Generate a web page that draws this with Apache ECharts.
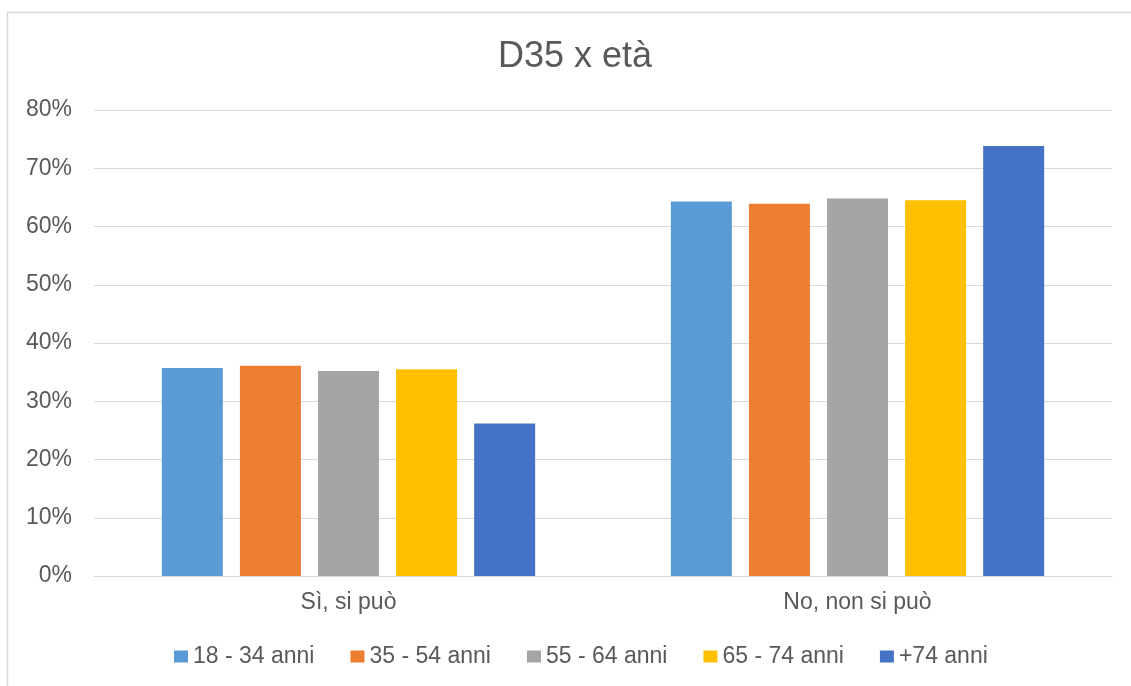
<!DOCTYPE html>
<html>
<head>
<meta charset="utf-8">
<script src="https://cdn.jsdelivr.net/npm/echarts@6/dist/echarts.min.js"></script>
<style>
  html, body { margin: 0; padding: 0; background: #fff; }
  #chart { width: 1131px; height: 686px; }
</style>
</head>
<body>
<div id="chart"></div>
<script>
// Risposte D35 per fascia d'età (quota percentuale)
const categories = ['Sì, si può', 'No, non si può'];
const ageGroups = ['18 - 34 anni', '35 - 54 anni', '55 - 64 anni', '65 - 74 anni', '+74 anni'];
const age18_34 = [35.7, 64.3];
const age35_54 = [36.1, 63.9];
const age55_64 = [35.2, 64.8];
const age65_74 = [35.5, 64.5];
const age74plus = [26.2, 73.8];
const colors = ['#5B9BD5', '#ED7D31', '#A5A5A5', '#FFC000', '#4472C4'];

const seriesValues = [age18_34, age35_54, age55_64, age65_74, age74plus];
const textColor = '#595959';
const fontFamily = 'Liberation Sans, Arial, sans-serif';

const chart = echarts.init(document.getElementById('chart'), null, { renderer: 'canvas' });
chart.setOption({
  backgroundColor: '#ffffff',
  animation: false,
  color: colors,
  title: {
    text: 'D35 x età',
    left: 493,
    top: 34,
    textStyle: { color: textColor, fontSize: 36, fontWeight: 'normal', fontFamily }
  },
  graphic: [
    { type: 'polyline', shape: { points: [[7.5, 686], [7.5, 12.5], [1131, 12.5]] },
      style: { stroke: '#d9d9d9', lineWidth: 1.5, fill: null } }
  ],
  legend: {
    top: 640,
    left: 169,
    itemWidth: 14,
    itemHeight: 12,
    itemGap: 36,
    icon: 'rect',
    data: ageGroups,
    textStyle: { color: textColor, fontSize: 23, fontFamily, padding: [0, 0, 0, 0] }
  },
  grid: { left: 94, right: 19, top: 110, bottom: 110, containLabel: false },
  xAxis: {
    type: 'category',
    data: categories,
    axisLine: { lineStyle: { color: '#d9d9d9', width: 1 } },
    axisTick: { show: false },
    axisLabel: { color: textColor, fontSize: 23, fontFamily, margin: 15 }
  },
  yAxis: {
    type: 'value',
    min: 0,
    max: 80,
    interval: 10,
    axisLine: { show: false },
    axisTick: { show: false },
    splitLine: { lineStyle: { color: '#d9d9d9', width: 1 } },
    axisLabel: { color: textColor, fontSize: 23, fontFamily, margin: 22, formatter: '{value}%' }
  },
  series: seriesValues.map((vals, i) => ({
    name: ageGroups[i],
    type: 'bar',
    data: vals,
    barWidth: 61,
    barGap: '28%',
    itemStyle: { color: colors[i] }
  }))
});
</script>
</body>
</html>
